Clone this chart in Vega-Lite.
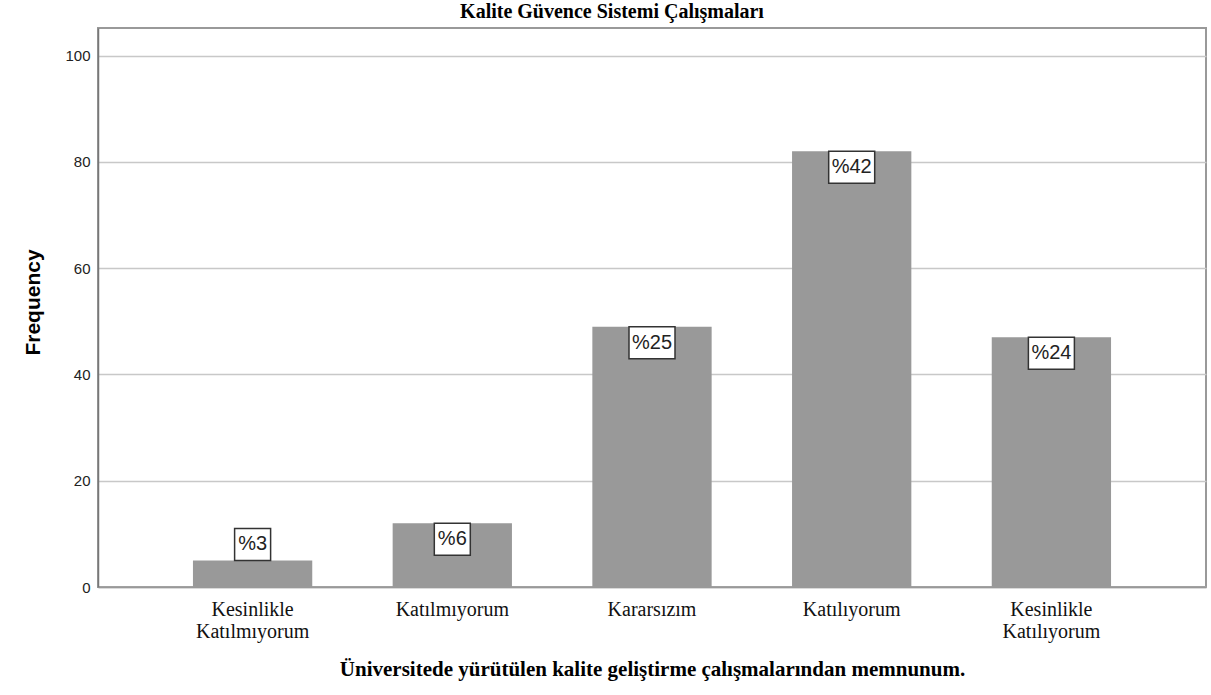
{
  "$schema": "https://vega.github.io/schema/vega-lite/v6.json",
  "width": 1108,
  "height": 559,
  "autosize": {"type": "none"},
  "padding": {"left": 98, "top": 28, "right": 5, "bottom": 108},
  "background": "white",
  "title": {
    "text": "Kalite Güvence Sistemi Çalışmaları",
    "font": "Liberation Serif",
    "fontSize": 20,
    "fontWeight": "bold",
    "color": "#000",
    "anchor": "middle",
    "frame": "group",
    "dx": -40,
    "dy": 18,
    "baseline": "alphabetic",
    "offset": 8
  },
  "config": {"view": {"stroke": "#999", "strokeWidth": 2}},
  "data": {
    "values": [
      {"cat": "Kesinlikle Katılmıyorum", "freq": 5, "pct": "%3"},
      {"cat": "Katılmıyorum", "freq": 12, "pct": "%6"},
      {"cat": "Kararsızım", "freq": 49, "pct": "%25"},
      {"cat": "Katılıyorum", "freq": 82, "pct": "%42"},
      {"cat": "Kesinlikle Katılıyorum", "freq": 47, "pct": "%24"}
    ]
  },
  "encoding": {
    "x": {
      "field": "cat",
      "type": "nominal",
      "sort": null,
      "scale": {"paddingInner": 0.4026, "paddingOuter": 0.4755},
      "axis": {
        "title": "Üniversitede yürütülen kalite geliştirme çalışmalarından memnunum.",
        "labelExpr": "split(datum.label, ' ')",
        "labelFont": "Liberation Serif",
        "labelFontSize": 20,
        "labelColor": "#111",
        "labelLineHeight": 22,
        "labelPadding": 12,
        "labelBaseline": "top",
        "labelAngle": 0,
        "ticks": false,
        "tickSize": 0,
        "domainColor": "#999",
        "domainWidth": 1.5,
        "titleFont": "Liberation Serif",
        "titleFontSize": 21,
        "titleFontWeight": "bold",
        "titleColor": "#000",
        "titleY": 88,
        "titleBaseline": "alphabetic"
      }
    },
    "y": {
      "field": "freq",
      "type": "quantitative",
      "scale": {"domain": [0, 105.2], "nice": false},
      "axis": {
        "title": "Frequency",
        "values": [0, 20, 40, 60, 80, 100],
        "grid": true,
        "gridColor": "#c8c8c8",
        "gridWidth": 1.5,
        "ticks": false,
        "tickSize": 0,
        "domainColor": "#777",
        "domainWidth": 1.5,
        "labelFont": "Liberation Sans",
        "labelFontSize": 15,
        "labelColor": "#222",
        "labelPadding": 8,
        "titleFont": "Liberation Sans",
        "titleFontSize": 21,
        "titleFontWeight": "bold",
        "titleColor": "#000",
        "titleX": -65,
        "titleY": 274,
        "titleBaseline": "middle",
        "titleAngle": 270
      }
    }
  },
  "layer": [
    {"mark": {"type": "bar", "color": "#999999"}},
    {
      "mark": {
        "type": "point",
        "filled": true,
        "fill": "white",
        "stroke": "#333",
        "strokeWidth": 1.5,
        "opacity": 1,
        "size": 1024
      },
      "encoding": {
        "shape": {
          "condition": [
            {"test": "datum.freq < 8", "value": "M-1.125,-2H1.125V0H-1.125Z"},
            {"test": "length(datum.pct) < 3", "value": "M-1.125,0H1.125V2H-1.125Z"}
          ],
          "value": "M-1.4375,0H1.4375V2H-1.4375Z"
        }
      }
    },
    {
      "transform": [{"filter": "datum.freq < 8"}],
      "mark": {"type": "text", "font": "Liberation Sans", "fontSize": 20, "color": "#222", "baseline": "middle", "dy": -16},
      "encoding": {"text": {"field": "pct"}}
    },
    {
      "transform": [{"filter": "datum.freq >= 8"}],
      "mark": {"type": "text", "font": "Liberation Sans", "fontSize": 20, "color": "#222", "baseline": "middle", "dy": 16},
      "encoding": {"text": {"field": "pct"}}
    }
  ]
}
